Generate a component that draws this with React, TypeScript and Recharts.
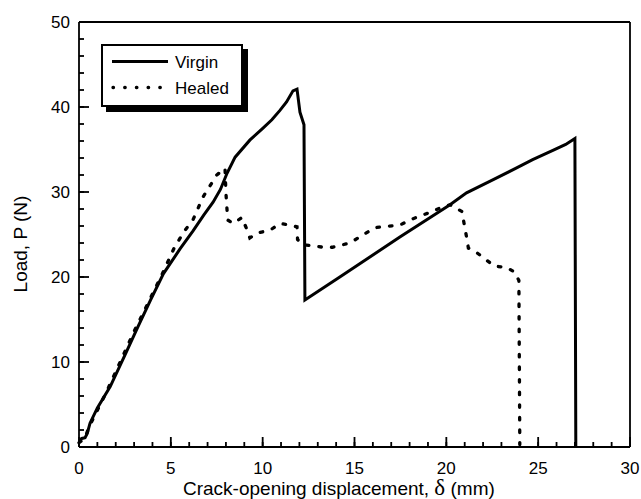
import { LineChart, Line, XAxis, YAxis } from 'recharts';

// Virgin specimen
const virginX = [0, 0.15, 0.33, 0.45, 0.6, 1.0, 1.7, 2.5, 3.2, 3.9, 4.6, 5.5, 6.2, 6.8, 7.3, 7.7, 8.06, 8.5, 9.3, 9.96, 10.5, 10.94, 11.3, 11.65, 11.87, 12.03, 12.25, 12.3, 14.2, 17.47, 20.2, 21.1, 22.5, 23.8, 24.7, 25.8, 26.5, 27.0, 27.05];
const virginY = [0.8, 1.0, 1.1, 1.6, 2.8, 4.6, 7.1, 10.8, 14.1, 17.3, 20.4, 23.3, 25.4, 27.3, 28.8, 30.3, 32.2, 34.1, 36.1, 37.4, 38.5, 39.6, 40.6, 41.9, 42.1, 39.4, 37.9, 17.3, 20.0, 24.7, 28.5, 29.9, 31.4, 32.8, 33.8, 34.9, 35.6, 36.3, 0];

// Healed specimen
const healedX = [0, 0.3, 0.6, 1.5, 3, 4.5, 5.2, 5.77, 6.2, 6.75, 7.5, 7.95, 8.0, 8.05, 8.1, 8.4, 8.87, 9.1, 9.3, 9.74, 10.4, 10.94, 11.5, 11.87, 11.9, 12.2, 13.3, 13.8, 14.75, 16.1, 17.47, 18.0, 19.1, 19.65, 20.2, 20.85, 21.1, 21.2, 21.7, 22.6, 23.3, 23.7, 23.95, 24.0];
const healedY = [0.5, 1.0, 2.6, 6.5, 13.6, 20.2, 23.5, 25.5, 26.7, 29.4, 32, 32.8, 29.9, 28.2, 26.7, 26.3, 27.0, 25.8, 24.6, 25.2, 25.5, 26.3, 26.1, 25.9, 24.4, 23.8, 23.5, 23.5, 24.0, 25.8, 26.1, 26.7, 27.6, 28.1, 28.5, 27.7, 24.7, 23.4, 22.8, 21.3, 21.1, 20.6, 19.6, 0.3];

const xTicks = Array.from({ length: 31 }, (_, i) => i);
const yTicks = Array.from({ length: 26 }, (_, i) => i * 2);

const virginData = virginX.map((x, i) => ({ x, p: virginY[i] }));
const healedData = healedX.map((x, i) => ({ x, p: healedY[i] }));

const FONT = '"Liberation Sans", Arial, Helvetica, sans-serif';
const DOTS = '2.5 10.1';
const AXIS = { stroke: '#000', strokeWidth: 1.8 };
const MINOR = 5; // native inward tick length; majors get 5 more below

// with tickSize -5 the tick's y sits 5px inside the plot (x: 5px right for the y axis)
const XTick = (props: any) => {
  const { x, y, payload } = props;
  const major = payload.value % 5 === 0;
  const base = y + MINOR;
  return (
    <g>
      {major && <rect x={x - 0.9} y={base - 10} width={1.8} height={10} fill="#000" />}
      {major && (
        <text x={x} y={base + 27} textAnchor="middle" fontSize={17} fontFamily={FONT} fill="#000">
          {payload.value}
        </text>
      )}
    </g>
  );
};

const YTick = (props: any) => {
  const { x, y, payload } = props;
  const major = payload.value % 10 === 0;
  const base = x - MINOR;
  return (
    <g>
      {major && <rect x={base} y={y - 0.9} width={10} height={1.8} fill="#000" />}
      {major && (
        <text x={base - 9} y={y + 6} textAnchor="end" fontSize={17} fontFamily={FONT} fill="#000">
          {payload.value}
        </text>
      )}
    </g>
  );
};

const Titles = () => (
  <svg width={641} height={499} style={{ position: 'absolute', left: 0, top: 0, pointerEvents: 'none' }}>
    <text x={183} y={495} fontSize={19} fontFamily={FONT} fill="#000">
      Crack-opening displacement,{'  '}
      <tspan fontFamily='"Liberation Serif", "Times New Roman", serif' fontSize={23}>δ</tspan>
      <tspan> (mm)</tspan>
    </text>
    <text x={20} y={244} transform="rotate(-90 20 244)" textAnchor="middle" dominantBaseline="central" fontSize={19} fontFamily={FONT} fill="#000">
      Load, P (N)
    </text>
  </svg>
);

const LegendBox = () => (
  <div
    style={{
      position: 'absolute',
      left: 101,
      top: 44,
      width: 142,
      height: 63,
      boxSizing: 'border-box',
      border: '2.5px solid #000',
      background: '#fff',
      boxShadow: '5px 5px 0 #000',
    }}
  >
    <svg width={137} height={58} style={{ display: 'block' }}>
      <line x1={9} x2={65} y1={15.5} y2={15.5} stroke="#000" strokeWidth={3} />
      <text x={72} y={21.5} fontSize={17} fontFamily={FONT} fill="#000">Virgin</text>
      <line x1={10} x2={66} y1={41.5} y2={41.5} stroke="#000" strokeWidth={3.3} strokeDasharray="0.5 11.2" strokeLinecap="round" />
      <text x={72} y={47.5} fontSize={17} fontFamily={FONT} fill="#000">Healed</text>
    </svg>
  </div>
);

export default function App() {
  return (
    <div style={{ position: 'absolute', left: 0, top: 0, width: 641, height: 499, background: '#fff', overflow: 'hidden' }}>
      <LineChart width={641} height={499} margin={{ top: 21, right: 10, bottom: 0, left: 0 }}>
        <XAxis
          type="number"
          dataKey="x"
          domain={[0, 30]}
          ticks={xTicks}
          interval={0}
          tickSize={-MINOR}
          tickMargin={0}
          tickLine={AXIS}
          height={52}
          axisLine={AXIS}
          tick={<XTick />}
        />
        <XAxis xAxisId="top" orientation="top" type="number" domain={[0, 30]} ticks={[0, 30]} height={1} tick={false} tickLine={false} axisLine={AXIS} />
        <YAxis
          type="number"
          domain={[0, 50]}
          ticks={yTicks}
          interval={0}
          tickSize={-MINOR}
          tickMargin={0}
          tickLine={AXIS}
          width={79}
          axisLine={AXIS}
          tick={<YTick />}
        />
        <YAxis yAxisId="right" orientation="right" type="number" domain={[0, 50]} ticks={[0, 50]} width={1} tick={false} tickLine={false} axisLine={AXIS} />
        <Line
          data={virginData}
          dataKey="p"
          type="linear"
          stroke="#000"
          strokeWidth={3}
          dot={false}
          isAnimationActive={false}
        />
        <Line
          data={healedData}
          dataKey="p"
          type="linear"
          stroke="#000"
          strokeWidth={3.3}
          strokeDasharray={DOTS}
          strokeLinecap="round"
          dot={false}
          isAnimationActive={false}
        />
      </LineChart>
      <Titles />
      <LegendBox />
    </div>
  );
}
